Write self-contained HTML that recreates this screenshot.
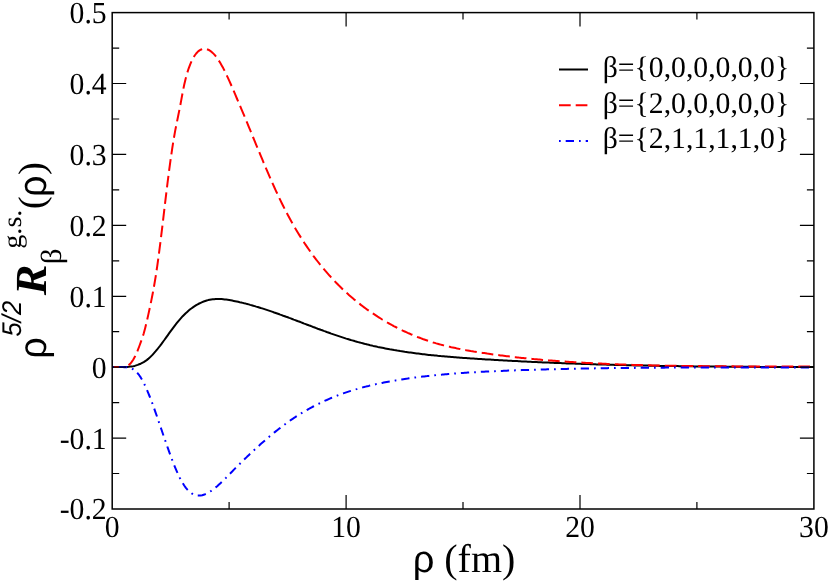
<!DOCTYPE html>
<html><head><meta charset="utf-8"><title>plot</title>
<style>
html,body{margin:0;padding:0;background:#fff;}
body{width:830px;height:582px;overflow:hidden;font-family:"Liberation Serif",serif;}
svg{display:block;will-change:transform}
text{font-family:"Liberation Serif",serif;fill:#000;text-rendering:geometricPrecision}
.sans{font-family:"Liberation Sans",sans-serif}
</style></head><body>
<svg width="830" height="582" viewBox="0 0 830 582">
<rect width="830" height="582" fill="#fff"/>
<g fill="none" stroke-width="2" stroke-linejoin="round">
<path stroke="#000" d="M112.2 367.1 L113.7 367.1 L115.2 367.1 L116.7 367.1 L118.2 367.1 L119.7 367.1 L121.2 367.1 L122.7 367.1 L124.2 367.1 L125.7 367.1 L127.2 366.9 L128.7 366.8 L130.2 366.6 L131.7 366.4 L133.2 366.2 L134.7 365.9 L136.2 365.4 L137.7 364.9 L139.2 364.3 L140.7 363.7 L142.2 362.9 L143.7 362.1 L145.2 361.1 L146.7 360.1 L148.2 358.9 L149.7 357.6 L151.2 356.1 L152.7 354.6 L154.2 352.9 L155.7 351.2 L157.2 349.4 L158.7 347.5 L160.2 345.6 L161.7 343.6 L163.2 341.5 L164.7 339.5 L166.2 337.4 L167.7 335.3 L169.2 333.2 L170.7 331.1 L172.2 329.1 L173.7 327.1 L175.2 325.1 L176.7 323.2 L178.2 321.3 L179.7 319.6 L181.2 317.9 L182.7 316.2 L184.2 314.7 L185.7 313.2 L187.2 311.9 L188.7 310.6 L190.2 309.3 L191.7 308.2 L193.2 307.1 L194.7 306.1 L196.2 305.1 L197.7 304.3 L199.2 303.5 L200.7 302.8 L202.2 302.1 L203.7 301.5 L205.2 301.0 L206.7 300.5 L208.2 300.1 L209.7 299.8 L211.2 299.5 L212.7 299.3 L214.2 299.2 L215.7 299.1 L217.2 299.0 L218.7 299.0 L220.2 299.0 L221.7 299.1 L223.2 299.2 L224.7 299.4 L226.2 299.6 L227.7 299.8 L229.2 300.0 L230.7 300.3 L232.2 300.6 L233.7 300.9 L235.2 301.2 L236.7 301.5 L238.2 301.8 L239.7 302.2 L241.2 302.5 L242.7 302.9 L244.2 303.3 L245.7 303.6 L247.2 304.0 L248.7 304.4 L250.2 304.9 L251.7 305.3 L253.2 305.7 L254.7 306.1 L256.2 306.6 L257.7 307.0 L259.2 307.5 L260.7 308.0 L262.2 308.4 L263.7 308.9 L265.2 309.4 L266.7 309.9 L268.2 310.4 L269.7 310.9 L271.2 311.4 L272.7 311.9 L274.2 312.5 L275.7 313.0 L277.2 313.5 L278.7 314.0 L280.2 314.6 L281.7 315.1 L283.2 315.7 L284.7 316.2 L286.2 316.8 L287.7 317.3 L289.2 317.9 L290.7 318.4 L292.2 319.0 L293.7 319.6 L295.2 320.1 L296.7 320.7 L298.2 321.3 L299.7 321.8 L301.2 322.4 L302.7 323.0 L304.2 323.6 L305.7 324.1 L307.2 324.7 L308.7 325.3 L310.2 325.8 L311.7 326.4 L313.2 327.0 L314.7 327.5 L316.2 328.1 L317.7 328.7 L319.2 329.2 L320.7 329.8 L322.2 330.3 L323.7 330.9 L325.2 331.4 L326.7 332.0 L328.2 332.5 L329.7 333.0 L331.2 333.6 L332.7 334.1 L334.2 334.6 L335.7 335.1 L337.2 335.6 L338.7 336.1 L340.2 336.6 L341.7 337.1 L343.2 337.6 L344.7 338.1 L346.2 338.6 L347.7 339.0 L349.2 339.5 L350.7 340.0 L352.2 340.4 L353.7 340.8 L355.2 341.3 L356.7 341.7 L358.2 342.1 L359.7 342.5 L361.2 342.9 L362.7 343.3 L364.2 343.7 L365.7 344.1 L367.2 344.4 L368.7 344.8 L370.2 345.2 L371.7 345.5 L373.2 345.9 L374.7 346.2 L376.2 346.5 L377.7 346.9 L379.2 347.2 L380.7 347.5 L382.2 347.8 L383.7 348.1 L385.2 348.4 L386.7 348.7 L388.2 349.0 L389.7 349.3 L391.2 349.5 L392.7 349.8 L394.2 350.1 L395.7 350.3 L397.2 350.6 L398.7 350.8 L400.2 351.1 L401.7 351.3 L403.2 351.5 L404.7 351.8 L406.2 352.0 L407.7 352.2 L409.2 352.4 L410.7 352.6 L412.2 352.8 L413.7 353.0 L415.2 353.2 L416.7 353.4 L418.2 353.6 L419.7 353.8 L421.2 354.0 L422.7 354.2 L424.2 354.3 L425.7 354.5 L427.2 354.7 L428.7 354.9 L430.2 355.0 L431.7 355.2 L433.2 355.3 L434.7 355.5 L436.2 355.6 L437.7 355.8 L439.2 355.9 L440.7 356.1 L442.2 356.2 L443.7 356.3 L445.2 356.5 L446.7 356.6 L448.2 356.7 L449.7 356.8 L451.2 357.0 L452.7 357.1 L454.2 357.2 L455.7 357.3 L457.2 357.4 L458.7 357.5 L460.2 357.7 L461.7 357.8 L463.2 357.9 L464.7 358.0 L466.2 358.1 L467.7 358.2 L469.2 358.3 L470.7 358.4 L472.2 358.5 L473.7 358.6 L475.2 358.7 L476.7 358.8 L478.2 358.9 L479.7 359.0 L481.2 359.1 L482.7 359.2 L484.2 359.3 L485.7 359.4 L487.2 359.4 L488.7 359.5 L490.2 359.6 L491.7 359.7 L493.2 359.8 L494.7 359.9 L496.2 360.0 L497.7 360.1 L499.2 360.2 L500.7 360.2 L502.2 360.3 L503.7 360.4 L505.2 360.5 L506.7 360.6 L508.2 360.7 L509.7 360.7 L511.2 360.8 L512.7 360.9 L514.2 361.0 L515.7 361.1 L517.2 361.1 L518.7 361.2 L520.2 361.3 L521.7 361.4 L523.2 361.5 L524.7 361.5 L526.2 361.6 L527.7 361.7 L529.2 361.7 L530.7 361.8 L532.2 361.9 L533.7 362.0 L535.2 362.0 L536.7 362.1 L538.2 362.2 L539.7 362.2 L541.2 362.3 L542.7 362.4 L544.2 362.4 L545.7 362.5 L547.2 362.6 L548.7 362.6 L550.2 362.7 L551.7 362.8 L553.2 362.8 L554.7 362.9 L556.2 362.9 L557.7 363.0 L559.2 363.1 L560.7 363.1 L562.2 363.2 L563.7 363.2 L565.2 363.3 L566.7 363.4 L568.2 363.4 L569.7 363.5 L571.2 363.5 L572.7 363.6 L574.2 363.6 L575.7 363.7 L577.2 363.7 L578.7 363.8 L580.2 363.8 L581.7 363.9 L583.2 363.9 L584.7 364.0 L586.2 364.0 L587.7 364.1 L589.2 364.1 L590.7 364.2 L592.2 364.2 L593.7 364.3 L595.2 364.3 L596.7 364.4 L598.2 364.4 L599.7 364.5 L601.2 364.5 L602.7 364.6 L604.2 364.6 L605.7 364.6 L607.2 364.7 L608.7 364.7 L610.2 364.8 L611.7 364.8 L613.2 364.8 L614.7 364.9 L616.2 364.9 L617.7 365.0 L619.2 365.0 L620.7 365.0 L622.2 365.1 L623.7 365.1 L625.2 365.1 L626.7 365.2 L628.2 365.2 L629.7 365.3 L631.2 365.3 L632.7 365.3 L634.2 365.4 L635.7 365.4 L637.2 365.4 L638.7 365.4 L640.2 365.5 L641.7 365.5 L643.2 365.5 L644.7 365.6 L646.2 365.6 L647.7 365.6 L649.2 365.7 L650.7 365.7 L652.2 365.7 L653.7 365.7 L655.2 365.8 L656.7 365.8 L658.2 365.8 L659.7 365.9 L661.2 365.9 L662.7 365.9 L664.2 365.9 L665.7 366.0 L667.2 366.0 L668.7 366.0 L670.2 366.0 L671.7 366.1 L673.2 366.1 L674.7 366.1 L676.2 366.1 L677.7 366.1 L679.2 366.2 L680.7 366.2 L682.2 366.2 L683.7 366.2 L685.2 366.2 L686.7 366.3 L688.2 366.3 L689.7 366.3 L691.2 366.3 L692.7 366.3 L694.2 366.4 L695.7 366.4 L697.2 366.4 L698.7 366.4 L700.2 366.4 L701.7 366.4 L703.2 366.5 L704.7 366.5 L706.2 366.5 L707.7 366.5 L709.2 366.5 L710.7 366.5 L712.2 366.5 L713.7 366.6 L715.2 366.6 L716.7 366.6 L718.2 366.6 L719.7 366.6 L721.2 366.6 L722.7 366.6 L724.2 366.7 L725.7 366.7 L727.2 366.7 L728.7 366.7 L730.2 366.7 L731.7 366.7 L733.2 366.7 L734.7 366.7 L736.2 366.7 L737.7 366.7 L739.2 366.8 L740.7 366.8 L742.2 366.8 L743.7 366.8 L745.2 366.8 L746.7 366.8 L748.2 366.8 L749.7 366.8 L751.2 366.8 L752.7 366.8 L754.2 366.8 L755.7 366.8 L757.2 366.9 L758.7 366.9 L760.2 366.9 L761.7 366.9 L763.2 366.9 L764.7 366.9 L766.2 366.9 L767.7 366.9 L769.2 366.9 L770.7 366.9 L772.2 366.9 L773.7 366.9 L775.2 366.9 L776.7 366.9 L778.2 366.9 L779.7 366.9 L781.2 366.9 L782.7 366.9 L784.2 366.9 L785.7 367.0 L787.2 367.0 L788.7 367.0 L790.2 367.0 L791.7 367.0 L793.2 367.0 L794.7 367.0 L796.2 367.0 L797.7 367.0 L799.2 367.0 L800.7 367.0 L802.2 367.0 L803.7 367.0 L805.2 367.0 L806.7 367.0 L808.2 367.0 L809.7 367.0 L811.2 367.0 L813.9 367.0"/>
<path stroke="#f00" stroke-dasharray="11.7 5" d="M112.2 367.1 L113.7 367.1 L115.2 367.1 L116.7 367.1 L118.2 367.1 L119.7 367.1 L121.2 367.1 L122.7 367.1 L124.2 366.9 L125.7 366.7 L127.2 366.1 L128.7 365.1 L130.2 363.8 L131.7 361.9 L133.2 359.7 L134.7 357.1 L136.2 354.0 L137.7 350.4 L139.2 346.5 L140.7 342.4 L142.2 338.2 L143.7 333.5 L145.2 327.9 L146.7 321.8 L148.2 315.1 L149.7 308.3 L151.2 301.1 L152.7 293.5 L154.2 285.3 L155.7 276.3 L157.2 266.4 L158.7 255.6 L160.2 243.9 L161.7 231.7 L163.2 219.1 L164.7 206.4 L166.2 193.8 L167.7 181.5 L169.2 169.8 L170.7 158.9 L172.2 148.6 L173.7 139.2 L175.2 130.7 L176.7 123.1 L178.2 115.8 L179.7 108.4 L181.2 100.4 L182.7 92.2 L184.2 84.8 L185.7 78.4 L187.2 73.0 L188.7 68.3 L190.2 64.4 L191.7 60.9 L193.2 58.0 L194.7 55.5 L196.2 53.5 L197.7 51.8 L199.2 50.6 L200.7 49.7 L202.2 49.1 L203.7 48.8 L205.2 48.8 L206.7 49.1 L208.2 49.7 L209.7 50.5 L211.2 51.6 L212.7 52.9 L214.2 54.4 L215.7 56.2 L217.2 58.2 L218.7 60.4 L220.2 62.8 L221.7 65.4 L223.2 68.1 L224.7 71.0 L226.2 74.1 L227.7 77.3 L229.2 80.6 L230.7 84.0 L232.2 87.4 L233.7 90.9 L235.2 94.4 L236.7 98.0 L238.2 101.5 L239.7 105.0 L241.2 108.6 L242.7 112.1 L244.2 115.7 L245.7 119.3 L247.2 122.9 L248.7 126.6 L250.2 130.2 L251.7 133.8 L253.2 137.5 L254.7 141.1 L256.2 144.8 L257.7 148.4 L259.2 152.0 L260.7 155.7 L262.2 159.2 L263.7 162.8 L265.2 166.4 L266.7 169.9 L268.2 173.4 L269.7 176.9 L271.2 180.3 L272.7 183.7 L274.2 187.0 L275.7 190.3 L277.2 193.5 L278.7 196.7 L280.2 199.9 L281.7 203.0 L283.2 206.0 L284.7 208.9 L286.2 211.9 L287.7 214.7 L289.2 217.5 L290.7 220.2 L292.2 222.9 L293.7 225.6 L295.2 228.2 L296.7 230.7 L298.2 233.2 L299.7 235.6 L301.2 238.0 L302.7 240.4 L304.2 242.7 L305.7 244.9 L307.2 247.1 L308.7 249.3 L310.2 251.4 L311.7 253.5 L313.2 255.6 L314.7 257.6 L316.2 259.6 L317.7 261.5 L319.2 263.4 L320.7 265.3 L322.2 267.1 L323.7 268.9 L325.2 270.7 L326.7 272.4 L328.2 274.1 L329.7 275.8 L331.2 277.4 L332.7 279.0 L334.2 280.6 L335.7 282.2 L337.2 283.7 L338.7 285.3 L340.2 286.7 L341.7 288.2 L343.2 289.7 L344.7 291.1 L346.2 292.5 L347.7 293.8 L349.2 295.2 L350.7 296.5 L352.2 297.8 L353.7 299.1 L355.2 300.3 L356.7 301.5 L358.2 302.7 L359.7 303.9 L361.2 305.1 L362.7 306.2 L364.2 307.4 L365.7 308.5 L367.2 309.6 L368.7 310.6 L370.2 311.7 L371.7 312.7 L373.2 313.7 L374.7 314.7 L376.2 315.7 L377.7 316.7 L379.2 317.6 L380.7 318.5 L382.2 319.5 L383.7 320.4 L385.2 321.2 L386.7 322.1 L388.2 323.0 L389.7 323.8 L391.2 324.6 L392.7 325.5 L394.2 326.3 L395.7 327.0 L397.2 327.8 L398.7 328.6 L400.2 329.3 L401.7 330.1 L403.2 330.8 L404.7 331.5 L406.2 332.2 L407.7 332.9 L409.2 333.5 L410.7 334.2 L412.2 334.8 L413.7 335.5 L415.2 336.1 L416.7 336.7 L418.2 337.3 L419.7 337.8 L421.2 338.4 L422.7 339.0 L424.2 339.5 L425.7 340.0 L427.2 340.5 L428.7 341.0 L430.2 341.5 L431.7 342.0 L433.2 342.5 L434.7 342.9 L436.2 343.4 L437.7 343.8 L439.2 344.2 L440.7 344.6 L442.2 345.0 L443.7 345.4 L445.2 345.8 L446.7 346.1 L448.2 346.5 L449.7 346.8 L451.2 347.2 L452.7 347.5 L454.2 347.8 L455.7 348.1 L457.2 348.5 L458.7 348.8 L460.2 349.0 L461.7 349.3 L463.2 349.6 L464.7 349.9 L466.2 350.2 L467.7 350.4 L469.2 350.7 L470.7 351.0 L472.2 351.2 L473.7 351.5 L475.2 351.7 L476.7 351.9 L478.2 352.2 L479.7 352.4 L481.2 352.7 L482.7 352.9 L484.2 353.1 L485.7 353.3 L487.2 353.6 L488.7 353.8 L490.2 354.0 L491.7 354.2 L493.2 354.4 L494.7 354.6 L496.2 354.8 L497.7 355.0 L499.2 355.2 L500.7 355.4 L502.2 355.6 L503.7 355.8 L505.2 356.0 L506.7 356.2 L508.2 356.3 L509.7 356.5 L511.2 356.7 L512.7 356.9 L514.2 357.1 L515.7 357.2 L517.2 357.4 L518.7 357.6 L520.2 357.7 L521.7 357.9 L523.2 358.0 L524.7 358.2 L526.2 358.3 L527.7 358.5 L529.2 358.6 L530.7 358.8 L532.2 358.9 L533.7 359.1 L535.2 359.2 L536.7 359.3 L538.2 359.5 L539.7 359.6 L541.2 359.7 L542.7 359.9 L544.2 360.0 L545.7 360.1 L547.2 360.3 L548.7 360.4 L550.2 360.5 L551.7 360.6 L553.2 360.7 L554.7 360.8 L556.2 361.0 L557.7 361.1 L559.2 361.2 L560.7 361.3 L562.2 361.4 L563.7 361.5 L565.2 361.6 L566.7 361.7 L568.2 361.8 L569.7 361.9 L571.2 362.0 L572.7 362.1 L574.2 362.2 L575.7 362.3 L577.2 362.4 L578.7 362.5 L580.2 362.5 L581.7 362.6 L583.2 362.7 L584.7 362.8 L586.2 362.9 L587.7 363.0 L589.2 363.0 L590.7 363.1 L592.2 363.2 L593.7 363.3 L595.2 363.4 L596.7 363.4 L598.2 363.5 L599.7 363.6 L601.2 363.6 L602.7 363.7 L604.2 363.8 L605.7 363.8 L607.2 363.9 L608.7 364.0 L610.2 364.0 L611.7 364.1 L613.2 364.2 L614.7 364.2 L616.2 364.3 L617.7 364.3 L619.2 364.4 L620.7 364.4 L622.2 364.5 L623.7 364.6 L625.2 364.6 L626.7 364.7 L628.2 364.7 L629.7 364.8 L631.2 364.8 L632.7 364.9 L634.2 364.9 L635.7 364.9 L637.2 365.0 L638.7 365.0 L640.2 365.1 L641.7 365.1 L643.2 365.2 L644.7 365.2 L646.2 365.2 L647.7 365.3 L649.2 365.3 L650.7 365.3 L652.2 365.4 L653.7 365.4 L655.2 365.4 L656.7 365.5 L658.2 365.5 L659.7 365.5 L661.2 365.6 L662.7 365.6 L664.2 365.6 L665.7 365.7 L667.2 365.7 L668.7 365.7 L670.2 365.7 L671.7 365.8 L673.2 365.8 L674.7 365.8 L676.2 365.8 L677.7 365.9 L679.2 365.9 L680.7 365.9 L682.2 365.9 L683.7 365.9 L685.2 366.0 L686.7 366.0 L688.2 366.0 L689.7 366.0 L691.2 366.0 L692.7 366.1 L694.2 366.1 L695.7 366.1 L697.2 366.1 L698.7 366.1 L700.2 366.1 L701.7 366.1 L703.2 366.2 L704.7 366.2 L706.2 366.2 L707.7 366.2 L709.2 366.2 L710.7 366.2 L712.2 366.2 L713.7 366.2 L715.2 366.3 L716.7 366.3 L718.2 366.3 L719.7 366.3 L721.2 366.3 L722.7 366.3 L724.2 366.3 L725.7 366.3 L727.2 366.3 L728.7 366.3 L730.2 366.3 L731.7 366.3 L733.2 366.3 L734.7 366.4 L736.2 366.4 L737.7 366.4 L739.2 366.4 L740.7 366.4 L742.2 366.4 L743.7 366.4 L745.2 366.4 L746.7 366.4 L748.2 366.4 L749.7 366.4 L751.2 366.4 L752.7 366.4 L754.2 366.4 L755.7 366.4 L757.2 366.4 L758.7 366.4 L760.2 366.4 L761.7 366.4 L763.2 366.4 L764.7 366.4 L766.2 366.4 L767.7 366.4 L769.2 366.4 L770.7 366.5 L772.2 366.5 L773.7 366.5 L775.2 366.5 L776.7 366.5 L778.2 366.5 L779.7 366.5 L781.2 366.5 L782.7 366.5 L784.2 366.5 L785.7 366.5 L787.2 366.5 L788.7 366.5 L790.2 366.5 L791.7 366.5 L793.2 366.5 L794.7 366.5 L796.2 366.5 L797.7 366.5 L799.2 366.5 L800.7 366.5 L802.2 366.6 L803.7 366.6 L805.2 366.6 L806.7 366.6 L808.2 366.6 L809.7 366.6 L811.2 366.6 L813.9 366.6"/>
<path stroke="#00f" stroke-dasharray="1.7 5 8.3 5" d="M112.2 367.1 L113.7 367.1 L115.2 367.1 L116.7 367.1 L118.2 367.1 L119.7 367.1 L121.2 367.1 L122.7 367.1 L124.2 367.2 L125.7 367.2 L127.2 367.3 L128.7 367.5 L130.2 367.8 L131.7 368.4 L133.2 369.3 L134.7 370.4 L136.2 371.6 L137.7 373.3 L139.2 375.2 L140.7 377.4 L142.2 380.0 L143.7 382.8 L145.2 385.9 L146.7 389.2 L148.2 392.8 L149.7 396.5 L151.2 400.4 L152.7 404.4 L154.2 408.6 L155.7 412.8 L157.2 417.1 L158.7 421.5 L160.2 425.9 L161.7 430.3 L163.2 434.7 L164.7 439.1 L166.2 443.4 L167.7 447.7 L169.2 451.9 L170.7 456.0 L172.2 460.0 L173.7 463.9 L175.2 467.6 L176.7 471.1 L178.2 474.5 L179.7 477.6 L181.2 480.5 L182.7 483.1 L184.2 485.5 L185.7 487.6 L187.2 489.4 L188.7 491.0 L190.2 492.3 L191.7 493.4 L193.2 494.2 L194.7 494.8 L196.2 495.2 L197.7 495.5 L199.2 495.5 L200.7 495.4 L202.2 495.2 L203.7 494.7 L205.2 494.2 L206.7 493.5 L208.2 492.7 L209.7 491.8 L211.2 490.9 L212.7 489.8 L214.2 488.7 L215.7 487.4 L217.2 486.2 L218.7 484.8 L220.2 483.4 L221.7 482.0 L223.2 480.6 L224.7 479.1 L226.2 477.6 L227.7 476.0 L229.2 474.5 L230.7 473.0 L232.2 471.5 L233.7 469.9 L235.2 468.4 L236.7 466.9 L238.2 465.4 L239.7 463.9 L241.2 462.5 L242.7 461.0 L244.2 459.5 L245.7 458.1 L247.2 456.6 L248.7 455.2 L250.2 453.8 L251.7 452.4 L253.2 451.0 L254.7 449.6 L256.2 448.2 L257.7 446.8 L259.2 445.5 L260.7 444.1 L262.2 442.8 L263.7 441.5 L265.2 440.2 L266.7 438.9 L268.2 437.6 L269.7 436.3 L271.2 435.1 L272.7 433.9 L274.2 432.6 L275.7 431.4 L277.2 430.2 L278.7 429.0 L280.2 427.9 L281.7 426.7 L283.2 425.6 L284.7 424.5 L286.2 423.4 L287.7 422.3 L289.2 421.2 L290.7 420.2 L292.2 419.2 L293.7 418.1 L295.2 417.2 L296.7 416.2 L298.2 415.2 L299.7 414.3 L301.2 413.3 L302.7 412.4 L304.2 411.5 L305.7 410.7 L307.2 409.8 L308.7 409.0 L310.2 408.1 L311.7 407.3 L313.2 406.5 L314.7 405.7 L316.2 404.9 L317.7 404.2 L319.2 403.5 L320.7 402.7 L322.2 402.0 L323.7 401.3 L325.2 400.6 L326.7 400.0 L328.2 399.3 L329.7 398.6 L331.2 398.0 L332.7 397.4 L334.2 396.8 L335.7 396.2 L337.2 395.6 L338.7 395.0 L340.2 394.5 L341.7 393.9 L343.2 393.4 L344.7 392.9 L346.2 392.4 L347.7 391.9 L349.2 391.4 L350.7 390.9 L352.2 390.4 L353.7 389.9 L355.2 389.5 L356.7 389.1 L358.2 388.6 L359.7 388.2 L361.2 387.8 L362.7 387.4 L364.2 387.0 L365.7 386.6 L367.2 386.2 L368.7 385.9 L370.2 385.5 L371.7 385.1 L373.2 384.8 L374.7 384.5 L376.2 384.1 L377.7 383.8 L379.2 383.5 L380.7 383.2 L382.2 382.9 L383.7 382.6 L385.2 382.3 L386.7 382.0 L388.2 381.7 L389.7 381.4 L391.2 381.2 L392.7 380.9 L394.2 380.7 L395.7 380.4 L397.2 380.2 L398.7 379.9 L400.2 379.7 L401.7 379.4 L403.2 379.2 L404.7 379.0 L406.2 378.8 L407.7 378.6 L409.2 378.3 L410.7 378.1 L412.2 377.9 L413.7 377.7 L415.2 377.5 L416.7 377.3 L418.2 377.1 L419.7 377.0 L421.2 376.8 L422.7 376.6 L424.2 376.4 L425.7 376.2 L427.2 376.1 L428.7 375.9 L430.2 375.7 L431.7 375.6 L433.2 375.4 L434.7 375.3 L436.2 375.1 L437.7 375.0 L439.2 374.8 L440.7 374.7 L442.2 374.6 L443.7 374.4 L445.2 374.3 L446.7 374.2 L448.2 374.0 L449.7 373.9 L451.2 373.8 L452.7 373.7 L454.2 373.6 L455.7 373.4 L457.2 373.3 L458.7 373.2 L460.2 373.1 L461.7 373.0 L463.2 372.9 L464.7 372.8 L466.2 372.7 L467.7 372.6 L469.2 372.5 L470.7 372.4 L472.2 372.3 L473.7 372.2 L475.2 372.2 L476.7 372.1 L478.2 372.0 L479.7 371.9 L481.2 371.8 L482.7 371.8 L484.2 371.7 L485.7 371.6 L487.2 371.5 L488.7 371.5 L490.2 371.4 L491.7 371.3 L493.2 371.2 L494.7 371.2 L496.2 371.1 L497.7 371.1 L499.2 371.0 L500.7 370.9 L502.2 370.9 L503.7 370.8 L505.2 370.7 L506.7 370.7 L508.2 370.6 L509.7 370.6 L511.2 370.5 L512.7 370.5 L514.2 370.4 L515.7 370.3 L517.2 370.3 L518.7 370.2 L520.2 370.2 L521.7 370.1 L523.2 370.1 L524.7 370.0 L526.2 370.0 L527.7 369.9 L529.2 369.9 L530.7 369.8 L532.2 369.8 L533.7 369.7 L535.2 369.7 L536.7 369.6 L538.2 369.6 L539.7 369.6 L541.2 369.5 L542.7 369.5 L544.2 369.4 L545.7 369.4 L547.2 369.3 L548.7 369.3 L550.2 369.3 L551.7 369.2 L553.2 369.2 L554.7 369.2 L556.2 369.1 L557.7 369.1 L559.2 369.0 L560.7 369.0 L562.2 369.0 L563.7 368.9 L565.2 368.9 L566.7 368.9 L568.2 368.8 L569.7 368.8 L571.2 368.8 L572.7 368.7 L574.2 368.7 L575.7 368.7 L577.2 368.6 L578.7 368.6 L580.2 368.6 L581.7 368.6 L583.2 368.5 L584.7 368.5 L586.2 368.5 L587.7 368.5 L589.2 368.4 L590.7 368.4 L592.2 368.4 L593.7 368.4 L595.2 368.3 L596.7 368.3 L598.2 368.3 L599.7 368.3 L601.2 368.2 L602.7 368.2 L604.2 368.2 L605.7 368.2 L607.2 368.2 L608.7 368.1 L610.2 368.1 L611.7 368.1 L613.2 368.1 L614.7 368.1 L616.2 368.0 L617.7 368.0 L619.2 368.0 L620.7 368.0 L622.2 368.0 L623.7 368.0 L625.2 367.9 L626.7 367.9 L628.2 367.9 L629.7 367.9 L631.2 367.9 L632.7 367.9 L634.2 367.9 L635.7 367.8 L637.2 367.8 L638.7 367.8 L640.2 367.8 L641.7 367.8 L643.2 367.8 L644.7 367.8 L646.2 367.8 L647.7 367.7 L649.2 367.7 L650.7 367.7 L652.2 367.7 L653.7 367.7 L655.2 367.7 L656.7 367.7 L658.2 367.7 L659.7 367.7 L661.2 367.7 L662.7 367.7 L664.2 367.7 L665.7 367.6 L667.2 367.6 L668.7 367.6 L670.2 367.6 L671.7 367.6 L673.2 367.6 L674.7 367.6 L676.2 367.6 L677.7 367.6 L679.2 367.6 L680.7 367.6 L682.2 367.6 L683.7 367.6 L685.2 367.6 L686.7 367.6 L688.2 367.6 L689.7 367.6 L691.2 367.6 L692.7 367.6 L694.2 367.6 L695.7 367.6 L697.2 367.6 L698.7 367.5 L700.2 367.5 L701.7 367.5 L703.2 367.5 L704.7 367.5 L706.2 367.5 L707.7 367.5 L709.2 367.5 L710.7 367.5 L712.2 367.5 L713.7 367.5 L715.2 367.5 L716.7 367.5 L718.2 367.5 L719.7 367.5 L721.2 367.5 L722.7 367.5 L724.2 367.5 L725.7 367.5 L727.2 367.5 L728.7 367.5 L730.2 367.5 L731.7 367.5 L733.2 367.5 L734.7 367.5 L736.2 367.5 L737.7 367.5 L739.2 367.5 L740.7 367.5 L742.2 367.5 L743.7 367.5 L745.2 367.5 L746.7 367.5 L748.2 367.5 L749.7 367.5 L751.2 367.5 L752.7 367.5 L754.2 367.5 L755.7 367.5 L757.2 367.5 L758.7 367.5 L760.2 367.5 L761.7 367.5 L763.2 367.5 L764.7 367.5 L766.2 367.5 L767.7 367.5 L769.2 367.5 L770.7 367.5 L772.2 367.5 L773.7 367.5 L775.2 367.5 L776.7 367.5 L778.2 367.5 L779.7 367.5 L781.2 367.5 L782.7 367.5 L784.2 367.5 L785.7 367.5 L787.2 367.5 L788.7 367.5 L790.2 367.5 L791.7 367.5 L793.2 367.5 L794.7 367.5 L796.2 367.5 L797.7 367.5 L799.2 367.5 L800.7 367.5 L802.2 367.5 L803.7 367.5 L805.2 367.5 L806.7 367.5 L808.2 367.5 L809.7 367.5 L811.2 367.5 L813.9 367.5"/>
</g>
<g fill="none" stroke="#000">
<rect x="112.2" y="12.6" width="701.7" height="496.4" stroke-width="1.5"/>
<path d="M112.2 48.1 h7 M813.9 48.1 h-7 M112.2 83.5 h14 M813.9 83.5 h-14 M112.2 119.0 h7 M813.9 119.0 h-7 M112.2 154.4 h14 M813.9 154.4 h-14 M112.2 189.9 h7 M813.9 189.9 h-7 M112.2 225.3 h14 M813.9 225.3 h-14 M112.2 260.8 h7 M813.9 260.8 h-7 M112.2 296.3 h14 M813.9 296.3 h-14 M112.2 331.7 h7 M813.9 331.7 h-7 M112.2 367.2 h14 M813.9 367.2 h-14 M112.2 402.6 h7 M813.9 402.6 h-7 M112.2 438.1 h14 M813.9 438.1 h-14 M112.2 473.5 h7 M813.9 473.5 h-7 M229.1 509.0 v-7 M229.1 12.6 v7 M346.1 509.0 v-14 M346.1 12.6 v14 M463.0 509.0 v-7 M463.0 12.6 v7 M580.0 509.0 v-14 M580.0 12.6 v14 M696.9 509.0 v-7 M696.9 12.6 v7" stroke-width="1.2"/>
</g>
<g font-size="29.7px">
<text transform="translate(106.7 23.0) scale(1 1.03)" text-anchor="end">0.5</text>
<text transform="translate(106.7 93.9) scale(1 1.03)" text-anchor="end">0.4</text>
<text transform="translate(106.7 164.8) scale(1 1.03)" text-anchor="end">0.3</text>
<text transform="translate(106.7 235.7) scale(1 1.03)" text-anchor="end">0.2</text>
<text transform="translate(106.7 306.7) scale(1 1.03)" text-anchor="end">0.1</text>
<text transform="translate(106.7 377.6) scale(1 1.03)" text-anchor="end">0</text>
<text transform="translate(106.7 448.5) scale(1 1.03)" text-anchor="end">-0.1</text>
<text transform="translate(106.7 519.4) scale(1 1.03)" text-anchor="end">-0.2</text>
<text transform="translate(112.2 536.8) scale(1 1.03)" text-anchor="middle">0</text>
<text transform="translate(346.1 536.8) scale(1 1.03)" text-anchor="middle">10</text>
<text transform="translate(580.0 536.8) scale(1 1.03)" text-anchor="middle">20</text>
<text transform="translate(813.9 536.8) scale(1 1.03)" text-anchor="middle">30</text>
</g>
<!-- legend -->
<g fill="none" stroke-width="2">
<path stroke="#000" d="M559 69.5h29"/>
<path stroke="#f00" stroke-dasharray="11.7 5" d="M559 105.3h29"/>
<path stroke="#00f" stroke-dasharray="1.7 5 8.3 5" d="M559 141h29"/>
</g>
<g font-size="29.7px">
<text x="602.7" y="76.6">β={0,0,0,0,0,0}</text>
<text x="602.7" y="112.5">β={2,0,0,0,0,0}</text>
<text x="602.7" y="148.3">β={2,1,1,1,1,0}</text>
</g>
<!-- x label -->
<text x="464" y="571.5" font-size="40px" text-anchor="middle"><tspan class="sans" font-size="38px">ρ</tspan> (fm)</text>
<!-- y label -->
<g transform="rotate(-90)">
<text transform="translate(-358.7 45.6) scale(1.0 1.019)" class="sans" font-size="38px">ρ</text>
<text transform="translate(-336.41 21.35) scale(0.946 1.003)" class="sans" font-size="27px" font-style="italic">5/2</text>
<text transform="translate(-295.2 46.0) scale(1.098 1.058)" font-size="42px" font-weight="bold" font-style="italic">R</text>
<text transform="translate(-264.24 60.78) scale(1.111 1.037)" font-size="28px">β</text>
<text transform="translate(-248.76 21.31) scale(1.007 0.948)" font-size="28px">g.s.</text>
<text transform="translate(-209.14 43.89) scale(1.053 1.008)" font-size="37px">(</text>
<text transform="translate(-197.09 45.73) scale(0.994 1.041)" class="sans" font-size="38px">ρ</text>
<text transform="translate(-174.92 43.89) scale(1.053 1.008)" font-size="37px">)</text>
</g>
</svg>
</body></html>
